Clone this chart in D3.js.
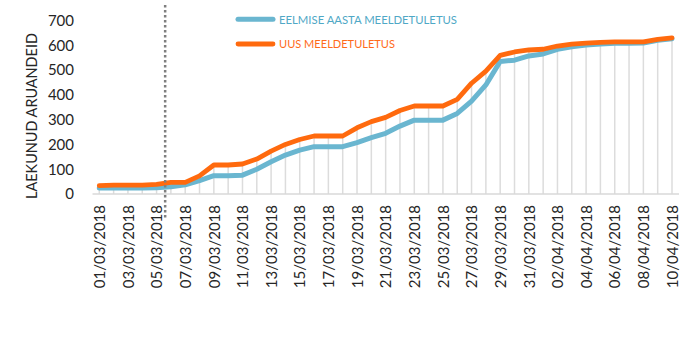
<!DOCTYPE html>
<html>
<head>
<meta charset="utf-8">
<script src="https://cdn.jsdelivr.net/npm/d3@7"></script>
<style>
  html, body { margin: 0; padding: 0; background: #fff; }
  svg { display: block; font-family: Lato, "Open Sans", sans-serif; }
</style>
</head>
<body>
<svg id="chart" width="700" height="342"></svg>
<script>
// Daily dates, 1 March – 10 April 2018
const dates = [
  "01/03/2018","02/03/2018","03/03/2018","04/03/2018","05/03/2018","06/03/2018","07/03/2018",
  "08/03/2018","09/03/2018","10/03/2018","11/03/2018","12/03/2018","13/03/2018","14/03/2018",
  "15/03/2018","16/03/2018","17/03/2018","18/03/2018","19/03/2018","20/03/2018","21/03/2018",
  "22/03/2018","23/03/2018","24/03/2018","25/03/2018","26/03/2018","27/03/2018","28/03/2018",
  "29/03/2018","30/03/2018","31/03/2018","01/04/2018","02/04/2018","03/04/2018","04/04/2018",
  "05/04/2018","06/04/2018","07/04/2018","08/04/2018","09/04/2018","10/04/2018"
];

// Cumulative received reports, previous year's reminder
const previousYear = [
  24, 24, 24, 24, 25, 29, 37, 54, 74, 74, 76, 100, 130, 157, 177, 191, 191, 191, 207, 227, 245,
  274, 298, 298, 298, 325, 375, 440, 535, 540, 557, 565, 584, 594, 601, 605, 608, 608, 609, 620, 626
];

// Cumulative received reports, new reminder
const newReminder = [
  34, 36, 36, 36, 39, 47, 47, 73, 117, 117, 121, 141, 173, 200, 220, 234, 234, 234, 267, 292, 309,
  337, 355, 355, 355, 382, 447, 496, 559, 573, 581, 584, 597, 605, 609, 612, 614, 614, 614, 624, 630
];

const yTicks = [0, 100, 200, 300, 400, 500, 600, 700];
const seriesNames = ["EELMISE AASTA MEELDETULETUS", "UUS MEELDETULETUS"];
const yTitle = "LAEKUNUD ARUANDEID";
// Position (in days from 1 March) of the dotted reference line
const cutoffDay = 4.6;

const blue = "#6AB6D0";
const orange = "#FF6A0E";
const blueText = "#4FA8C6";
const orangeText = "#FF6A1A";
const textColor = "#262626";

const svg = d3.select("#chart");

const x = d3.scaleLinear().domain([0, dates.length - 1]).range([99.3, 672]);
const y = d3.scaleLinear().domain([0, 700]).range([194, 20.5]);

// Drop lines from the upper series down to the axis
svg.append("g")
  .selectAll("line")
  .data(newReminder)
  .join("line")
  .attr("x1", (d, i) => x(i))
  .attr("x2", (d, i) => x(i))
  .attr("y1", y(0))
  .attr("y2", d => y(d))
  .attr("stroke", "#DCDCDC")
  .attr("stroke-width", 1.5);

// Category axis baseline
svg.append("line")
  .attr("x1", 92.5).attr("x2", 679)
  .attr("y1", y(0)).attr("y2", y(0))
  .attr("stroke", "#D9D9D9")
  .attr("stroke-width", 1.5);

// Y axis tick labels (no axis line)
const yAxis = d3.axisLeft(y).tickValues(yTicks).tickSize(0).tickPadding(0);
const gy = svg.append("g").attr("transform", "translate(74,0)").call(yAxis);
gy.select(".domain").remove();
gy.selectAll("text")
  .attr("font-family", "Lato, 'Open Sans', sans-serif")
  .attr("font-size", 15)
  .attr("fill", textColor);

// X axis labels, every second day, rotated
const xAxis = d3.axisBottom(x)
  .tickValues(d3.range(0, dates.length, 2))
  .tickFormat(i => dates[i])
  .tickSize(0);
const gx = svg.append("g").attr("transform", `translate(0,${y(0)})`).call(xAxis);
gx.select(".domain").remove();
gx.selectAll("text")
  .attr("font-family", "Lato, 'Open Sans', sans-serif")
  .attr("font-size", 15)
  .attr("fill", textColor)
  .attr("text-anchor", "end")
  .attr("dy", "0.35em")
  .attr("transform", "translate(0,11) rotate(-90)")
  .attr("x", 0)
  .attr("y", 0);

// Y axis title
svg.append("text")
  .attr("transform", "translate(36.5,116) rotate(-90)")
  .attr("text-anchor", "middle")
  .attr("font-size", 16)
  .attr("textLength", 166)
  .attr("lengthAdjust", "spacingAndGlyphs")
  .attr("fill", textColor)
  .text(yTitle);

// Series lines
const line = d3.line().x((d, i) => x(i)).y(d => y(d));

svg.append("path")
  .datum(previousYear)
  .attr("d", line)
  .attr("fill", "none")
  .attr("stroke", blue)
  .attr("stroke-width", 5)
  .attr("stroke-linejoin", "round")
  .attr("stroke-linecap", "round");

svg.append("path")
  .datum(newReminder)
  .attr("d", line)
  .attr("fill", "none")
  .attr("stroke", orange)
  .attr("stroke-width", 4.8)
  .attr("stroke-linejoin", "round")
  .attr("stroke-linecap", "round");

// Dotted reference line
svg.append("line")
  .attr("x1", x(cutoffDay)).attr("x2", x(cutoffDay))
  .attr("y1", 5).attr("y2", 219)
  .attr("stroke", "#7F7F7F")
  .attr("stroke-width", 2.5)
  .attr("stroke-dasharray", "2.5,2.5");

// Legend
const legend = svg.append("g");
const legendItems = [
  { name: seriesNames[0], color: blue, text: blueText, w: 5, yy: 19.3, len: 178 },
  { name: seriesNames[1], color: orange, text: orangeText, w: 4.8, yy: 44, len: 116 }
];
legendItems.forEach(it => {
  legend.append("line")
    .attr("x1", 238).attr("x2", 273)
    .attr("y1", it.yy).attr("y2", it.yy)
    .attr("stroke", it.color)
    .attr("stroke-width", it.w)
    .attr("stroke-linecap", "round");
  legend.append("text")
    .attr("x", 279).attr("y", it.yy)
    .attr("dy", "0.36em")
    .attr("font-size", 11.8)
    .attr("textLength", it.len)
    .attr("lengthAdjust", "spacingAndGlyphs")
    .attr("fill", it.text)
    .text(it.name);
});
</script>
</body>
</html>
